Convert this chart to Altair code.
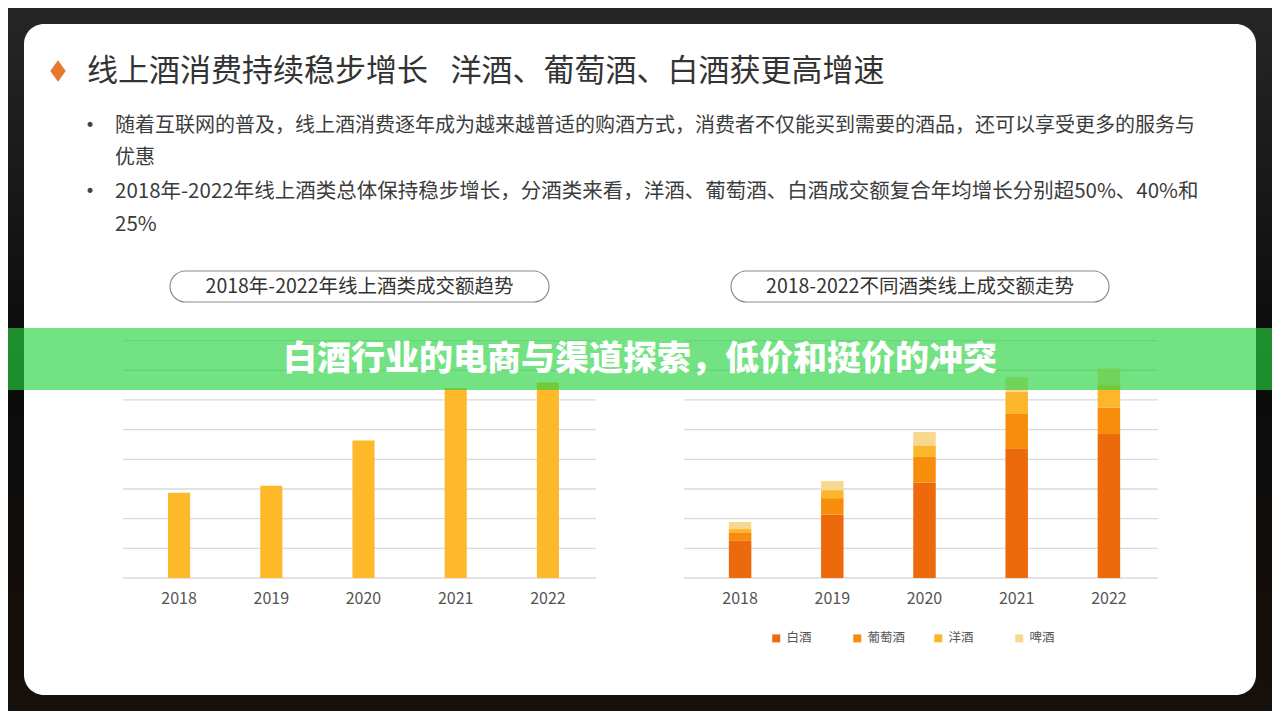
import altair as alt
import pandas as pd

# ---------------- data ----------------
years = ["2018", "2019", "2020", "2021", "2022"]
online_total = [2.87, 3.11, 4.63, 6.40, 6.59]

categories = ["白酒", "葡萄酒", "洋酒", "啤酒"]
baijiu = [1.27, 2.14, 3.22, 4.37, 4.85]
putaojiu = [0.27, 0.55, 0.86, 1.18, 0.89]
yangjiu = [0.11, 0.27, 0.39, 0.72, 0.76]
pijiu = [0.24, 0.31, 0.45, 0.50, 0.56]

grid_levels = [0, 1, 2, 3, 4, 5, 6, 7, 8]

cat_colors = ["#EC6A0C", "#F88D0C", "#FBB62C", "#F8D78F"]
online_color = "#FDB92A"

title_text = "线上酒消费持续稳步增长\u2002\u00a0洋酒、葡萄酒、白酒获更高增速"
bullet_lines = [
    "随着互联网的普及，线上酒消费逐年成为越来越普适的购酒方式，消费者不仅能买到需要的酒品，还可以享受更多的服务与",
    "优惠",
    "2018年-2022年线上酒类总体保持稳步增长，分酒类来看，洋酒、葡萄酒、白酒成交额复合年均增长分别超50%、40%和",
    "25%",
]
bullet_sizes = [20, 20, 20.5, 20.5]
left_title = "2018年-2022年线上酒类成交额趋势"
right_title = "2018-2022不同酒类线上成交额走势"
banner_text = "白酒行业的电商与渠道探索，低价和挺价的冲突"

FONT = "Noto Sans CJK SC"
W, H = 1264, 703

# ---------------- tables ----------------
left_df = pd.DataFrame({"year": years, "value": online_total})
rows = []
series = [baijiu, putaojiu, yangjiu, pijiu]
for ci, (cat, vals) in enumerate(zip(categories, series)):
    for y, v in zip(years, vals):
        rows.append({"year": y, "cat": cat, "idx": ci, "value": v})
right_df = pd.DataFrame(rows)
grid_df = pd.DataFrame({"v": grid_levels})
year_df = pd.DataFrame({"year": years})
dummy = pd.DataFrame({"k": [0]})


def deco_rect(x, x2, y, y2, **kw):
    return alt.Chart(dummy).mark_rect(**kw).encode(
        x=alt.value(x), x2=alt.value(x2), y=alt.value(y), y2=alt.value(y2)
    )


def deco_text(txt, x, y, **kw):
    kw.setdefault("font", FONT)
    return alt.Chart(dummy).mark_text(text=txt, **kw).encode(
        x=alt.value(x), y=alt.value(y)
    )


# ---------------- background & panel ----------------
bg = deco_rect(0, W, 0, H, color=alt.Gradient(
    gradient="linear",
    stops=[alt.GradientStop(color="#262626", offset=0),
           alt.GradientStop(color="#0b0b0b", offset=0.5),
           alt.GradientStop(color="#17100b", offset=1)],
    x1=0, x2=0, y1=0, y2=1))
panel = deco_rect(16, 1248, 16, 687, color="#ffffff", cornerRadius=20)

diamond = alt.Chart(dummy).mark_point(
    shape="M0,-1L0.72,0L0,1L-0.72,0Z", filled=True, size=460,
    color="#E8772E", opacity=1
).encode(x=alt.value(50), y=alt.value(63))

title = deco_text(title_text, 79, 64, align="left", baseline="middle",
                  fontSize=31, color="#333333")

text_layers = []
line_ys = [118, 150, 184, 217]
for line, ly, fs in zip(bullet_lines, line_ys, bullet_sizes):
    text_layers.append(deco_text(line, 107, ly, align="left", baseline="middle",
                                 fontSize=fs, color="#3c3c3c"))
for ly in (line_ys[0], line_ys[2]):
    text_layers.append(deco_text("•", 82, ly, align="center", baseline="middle",
                                 fontSize=17, color="#444444", font="DejaVu Sans"))

pill_l = deco_rect(162, 541, 263, 294, fill="#ffffff", stroke="#8c8c8c",
                   strokeWidth=1.2, cornerRadius=15.5)
pill_r = deco_rect(723, 1101, 263, 294, fill="#ffffff", stroke="#8c8c8c",
                   strokeWidth=1.2, cornerRadius=15.5)
pill_l_t = deco_text(left_title, 351.5, 279, align="center", baseline="middle",
                     fontSize=19.5, color="#333333")
pill_r_t = deco_text(right_title, 912, 279, align="center", baseline="middle",
                     fontSize=19.5, color="#333333")

# ---------------- scales ----------------
y_scale = alt.Scale(domain=[0, 8], range=[570, 332.6], nice=False, zero=True)
xl_scale = alt.Scale(domain=years, range=[125, 586], paddingInner=0.76, paddingOuter=0.38)
xr_scale = alt.Scale(domain=years, range=[686, 1147], paddingInner=0.756, paddingOuter=0.378)

# ---------------- left chart ----------------
grid_l = alt.Chart(grid_df).mark_rule(color="#dadada", strokeWidth=1.3).encode(
    x=alt.value(115), x2=alt.value(588),
    y=alt.Y("v:Q", scale=y_scale, axis=None))
bars_l = alt.Chart(left_df).mark_bar(color=online_color).encode(
    x=alt.X("year:N", scale=xl_scale, axis=None),
    y=alt.Y("value:Q", scale=y_scale, axis=None))
lab_l = alt.Chart(year_df).mark_text(font=FONT, fontSize=16, color="#555555",
                                     baseline="middle").encode(
    x=alt.X("year:N", scale=xl_scale, axis=None),
    y=alt.value(591), text="year:N")
left = alt.layer(grid_l, bars_l, lab_l)

# ---------------- right chart ----------------
grid_r = alt.Chart(grid_df).mark_rule(color="#dadada", strokeWidth=1.3).encode(
    x=alt.value(676), x2=alt.value(1150),
    y=alt.Y("v:Q", scale=y_scale, axis=None))
bars_r = alt.Chart(right_df).mark_bar().encode(
    x=alt.X("year:N", scale=xr_scale, axis=None),
    y=alt.Y("value:Q", stack="zero", scale=y_scale, axis=None),
    color=alt.Color("cat:N", scale=alt.Scale(domain=categories, range=cat_colors),
                    legend=alt.Legend(orient="none", legendX=762, legendY=624,
                                      direction="horizontal", title=None,
                                      symbolType="square", symbolSize=64,
                                      symbolStrokeWidth=0, labelFont=FONT,
                                      labelFontSize=12.5, labelColor="#555555",
                                      labelOffset=4, columnPadding=26,
                                      gridAlign="all")),
    order=alt.Order("idx:Q", sort="ascending"))
lab_r = alt.Chart(year_df).mark_text(font=FONT, fontSize=16, color="#555555",
                                     baseline="middle").encode(
    x=alt.X("year:N", scale=xr_scale, axis=None),
    y=alt.value(591), text="year:N")
right = alt.layer(grid_r, bars_r, lab_r)

# ---------------- banner ----------------
banner = deco_rect(0, W, 320, 382, color="rgb(40,211,64)", opacity=0.655)
banner_t = deco_text(banner_text, 632, 352, align="center", baseline="middle",
                     fontSize=34, fontWeight=900, color="#ffffff")

chart = alt.layer(
    bg, panel, diamond, title, *text_layers,
    pill_l, pill_r, pill_l_t, pill_r_t,
    left, right, banner, banner_t
).resolve_scale(
    x="independent", y="independent", color="independent"
).properties(
    width=W, height=H, padding=0,
    autosize=alt.AutoSizeParams(type="none"),
    background="#0d0d0d",
).configure_view(stroke=None)

chart.save("out.html", embed_options={"renderer": "svg", "actions": False})
